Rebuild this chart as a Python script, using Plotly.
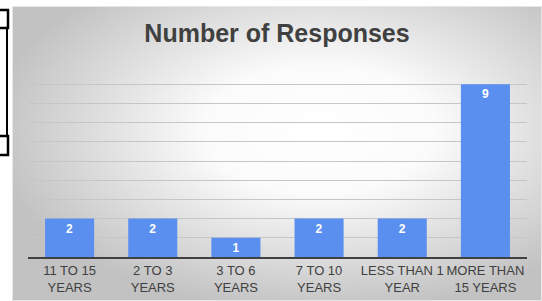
import base64
import plotly.graph_objects as go

categories = ["11 TO 15<br>YEARS", "2 TO 3<br>YEARS", "3 TO 6<br>YEARS",
              "7 TO 10<br>YEARS", "LESS THAN 1<br>YEAR", "MORE THAN<br>15 YEARS"]
responses = [2, 2, 1, 2, 2, 9]
title_text = "Number of Responses"

W, H = 542, 301
L, R, T, B = 28, 15, 65, 44
pw, ph = W - L - R, H - T - B

svg = """<svg xmlns='http://www.w3.org/2000/svg' width='530' height='295' viewBox='0 0 530 295' preserveAspectRatio='none'>
<defs><radialGradient id='g' cx='0.58' cy='0.42' r='0.62' fx='0.58' fy='0.42'>
<stop offset='0' stop-color='#ffffff'/><stop offset='0.35' stop-color='#fbfbfb'/>
<stop offset='1' stop-color='#c2c2c2'/></radialGradient></defs>
<rect x='0' y='0' width='530' height='295' fill='url(#g)'/>
<rect x='0.5' y='0.5' width='529' height='294' fill='none' stroke='#e6e6e6' stroke-width='1'/>
</svg>"""
src = "data:image/svg+xml;base64," + base64.b64encode(svg.encode()).decode()

fig = go.Figure(go.Bar(
    x=categories, y=responses,
    marker=dict(color="#5A8FEF", line=dict(width=0)),
    text=[str(v) for v in responses],
    textposition="inside", insidetextanchor="end", textangle=0,
    constraintext="none",
    textfont=dict(family="Liberation Sans, Arial", size=12, color="white", weight="bold"),
    width=0.59,
))

def px_x(px):
    return (px - L) / pw

def px_y(py):
    return (H - B - py) / ph

fig.add_layout_image(dict(
    source=src, xref="paper", yref="paper",
    x=px_x(12), y=px_y(6), sizex=(W - 12) / pw, sizey=(H - 6) / ph,
    xanchor="left", yanchor="top", sizing="stretch", layer="below",
))

# selection-handle brackets on the left edge
bracket = dict(color="black", width=2.5)
fig.add_shape(type="path", xref="paper", yref="paper",
              path=f"M {px_x(0)},{px_y(10)} L {px_x(8)},{px_y(10)} L {px_x(8)},{px_y(28)} L {px_x(0)},{px_y(28)}",
              line=bracket)
fig.add_shape(type="line", xref="paper", yref="paper",
              x0=px_x(7), x1=px_x(7), y0=px_y(28), y1=px_y(136), line=dict(color="black", width=2))
fig.add_shape(type="path", xref="paper", yref="paper",
              path=f"M {px_x(0)},{px_y(136)} L {px_x(8)},{px_y(136)} L {px_x(8)},{px_y(155)} L {px_x(0)},{px_y(155)}",
              line=bracket)

fig.update_layout(
    width=W, height=H,
    margin=dict(l=L, r=R, t=T, b=B, autoexpand=False),
    paper_bgcolor="white", plot_bgcolor="rgba(0,0,0,0)",
    title=dict(text=f"<b>{title_text}</b>", x=277 / W, xanchor="center",
               y=1 - 33 / H, yanchor="middle", automargin=False,
               font=dict(family="Liberation Sans, Arial", size=25, color="#404040")),
    showlegend=False,
    xaxis=dict(showline=True, linecolor="#404040", linewidth=2, ticks="", automargin=False,
               tickfont=dict(family="Liberation Sans, Arial", size=13, color="#404040"),
               fixedrange=True),
    yaxis=dict(range=[0, 10], dtick=1, showticklabels=False, showgrid=True, automargin=False,
               gridcolor="#c6c6c6", gridwidth=1, zeroline=False, fixedrange=True),
)

fig.write_html("out.html", config={"displayModeBar": False},
               post_script="document.body.style.margin='0';document.body.style.overflow='hidden';")
